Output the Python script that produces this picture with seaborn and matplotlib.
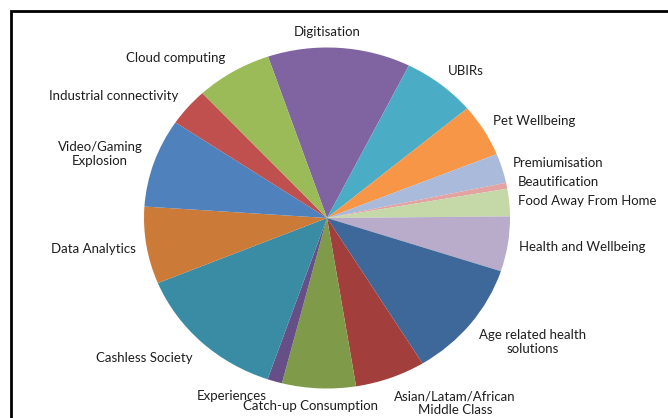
import matplotlib
matplotlib.use("Agg")
import matplotlib.pyplot as plt
from matplotlib.patches import Rectangle
import seaborn as sns

# Megatrend shares, listed clockwise from "Digitisation"
categories = [
    "Digitisation", "UBIRs", "Pet Wellbeing", "Premiumisation", "Beautification",
    "Food Away From Home", "Health and Wellbeing", "Age related health\nsolutions",
    "Asian/Latam/African\nMiddle Class", "Catch-up Consumption", "Experiences",
    "Cashless Society", "Data Analytics", "Video/Gaming\nExplosion",
    "Industrial connectivity", "Cloud computing",
]
shares = [12.6, 6.5, 5.0, 2.8, 0.56, 2.6, 5.2, 11.2, 6.2, 6.5, 1.3, 13.5, 7.3, 8.4, 3.6, 6.7]

slice_colors = [
    "#8064A2", "#4BACC6", "#F79646", "#A9BADB", "#E3A3A1", "#C5D8A7", "#B8ACCA",
    "#3D6899", "#A23F3C", "#7F9B49", "#654F86", "#3A8CA4", "#CC7A37",
    "#4F81BD", "#C0504D", "#9BBB59",
]

# Label anchor points (pixels from the top-left of the canvas)
label_px = [
    (327, 32), (466, 71), (534, 121), (558, 163), (558, 182),
    (587, 201), (582, 247), (533, 342), (455, 403), (310, 406), (232, 396),
    (144, 358), (93, 249), (100, 154), (114, 96), (176, 58),
]

W, H = 668, 418
CX, CY = 327, 218          # pie centre in pixels
RX, RY = 183, 170.5        # pie radii in pixels

sns.set_theme(style="white")
plt.rcParams["font.family"] = ["Lato", "DejaVu Sans"]

fig = plt.figure(figsize=(W / 100, H / 100), dpi=100)
ax = fig.add_axes([0, 0, 1, 1])

palette = sns.color_palette(slice_colors)
ax.pie(shares, colors=palette, startangle=108.8, counterclock=False,
       radius=1.0, wedgeprops=dict(linewidth=0))

ax.set_aspect("auto")
ax.set_xlim(-CX / RX, (W - CX) / RX)
ax.set_ylim(-(H - CY) / RY, CY / RY)
ax.axis("off")

for name, (px, py) in zip(categories, label_px):
    ax.text((px - CX) / RX, (CY - py) / RY, name, ha="center", va="center",
            fontsize=9.5, color="#1e1e1e", linespacing=1.15)

# Frame around the chart area (continues past the right and bottom edges)
fig.add_artist(Rectangle((11 / W, -0.1), 1.2, 1.1 - 11 / H, transform=fig.transFigure,
                         fill=False, edgecolor="black", linewidth=2))

fig.savefig("out.png", dpi=100, facecolor="white")
